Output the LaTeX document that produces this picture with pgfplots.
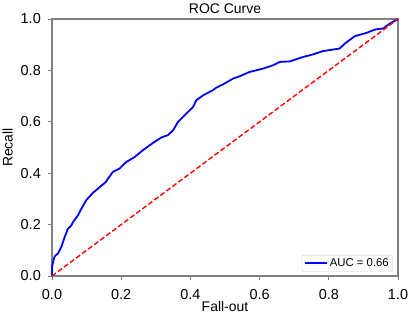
\documentclass[border=0pt]{standalone}
\usepackage{fontspec}
\setmainfont{Liberation Sans}
\usepackage{pgfplots}
\pgfplotsset{compat=1.18}
\definecolor{framegray}{RGB}{128,128,128}
\definecolor{leggray}{RGB}{204,204,204}
\begin{document}
\begin{tikzpicture}
\begin{axis}[
  at={(0,0)}, anchor=south west,
  scale only axis, width=346bp, height=257bp,
  xmin=0, xmax=1, ymin=0, ymax=1,
  xtick={0,0.2,0.4,0.6,0.8,1.0}, ytick={0,0.2,0.4,0.6,0.8,1.0},
  xticklabels={0.0,0.2,0.4,0.6,0.8,1.0},
  yticklabels={0.0,0.2,0.4,0.6,0.8,1.0},
  /pgf/number format/assume math mode=true,
  axis line style={framegray, line width=1.2bp},
  tick style={framegray, line width=0.8bp},
  tick align=outside, major tick length=4bp,
  xtick pos=bottom, ytick pos=left,
  tick label style={font=\fontsize{14.5}{16}\selectfont, inner sep=0pt},
  xticklabel style={anchor=north, yshift=-9bp},
  yticklabel style={anchor=east, xshift=-7bp},
  every axis title shift=0pt,
  title={ROC Curve},
  title style={font=\fontsize{14}{16}\selectfont, at={(axis description cs:0.5,1.0195)}, anchor=base, inner sep=0pt},
  xlabel={Fall-out},
  xlabel style={font=\fontsize{14}{16}\selectfont, at={(axis description cs:0.5,-0.1381)}, anchor=base, inner sep=0pt},
  legend style={at={(axis description cs:1,0)}, anchor=south east, xshift=-5bp, yshift=4.3bp,
    draw=leggray, rounded corners=2bp, fill=white, font=\fontsize{11.4}{13}\selectfont,
    inner xsep=2bp, inner ysep=1.5bp},
  legend cell align=left,
  legend image code/.code={\draw[#1] (0bp,0bp) -- (22bp,0bp);},
  clip=false,
]
\addplot[blue, line width=1.8bp] coordinates {
(0,0) (0,0.035) (0.004,0.06) (0.008,0.077) (0.017,0.087) (0.022,0.1) (0.027,0.113)
(0.036,0.149) (0.046,0.184) (0.055,0.195) (0.061,0.21) (0.075,0.236) (0.085,0.262)
(0.099,0.295) (0.118,0.323) (0.138,0.346) (0.155,0.365) (0.162,0.379) (0.176,0.405)
(0.195,0.418) (0.215,0.444) (0.239,0.463) (0.263,0.49) (0.292,0.518) (0.316,0.539)
(0.335,0.548) (0.35,0.567) (0.364,0.599) (0.388,0.632) (0.408,0.658) (0.417,0.684)
(0.437,0.703) (0.465,0.723) (0.475,0.733) (0.495,0.746) (0.523,0.768) (0.542,0.777)
(0.571,0.794) (0.61,0.807) (0.639,0.82) (0.658,0.833) (0.687,0.835) (0.725,0.852)
(0.754,0.862) (0.783,0.875) (0.831,0.885) (0.846,0.904) (0.875,0.933) (0.909,0.946)
(0.928,0.956) (0.937,0.96) (0.957,0.963) (0.976,0.982) (1,1)
};
\addlegendentry{AUC = 0.66}
\addplot[red, line width=1.4bp, dash pattern=on 5bp off 2.5bp, forget plot] coordinates {(0,0) (1,1)};
\end{axis}
\node[rotate=90, anchor=base, inner sep=0pt, font=\fontsize{14}{16}\selectfont] at (-39.5bp,128.5bp) {Recall};
\pgfresetboundingbox
\path[use as bounding box] (-52bp,-39bp) rectangle (357bp,276bp);
\end{tikzpicture}
\end{document}
